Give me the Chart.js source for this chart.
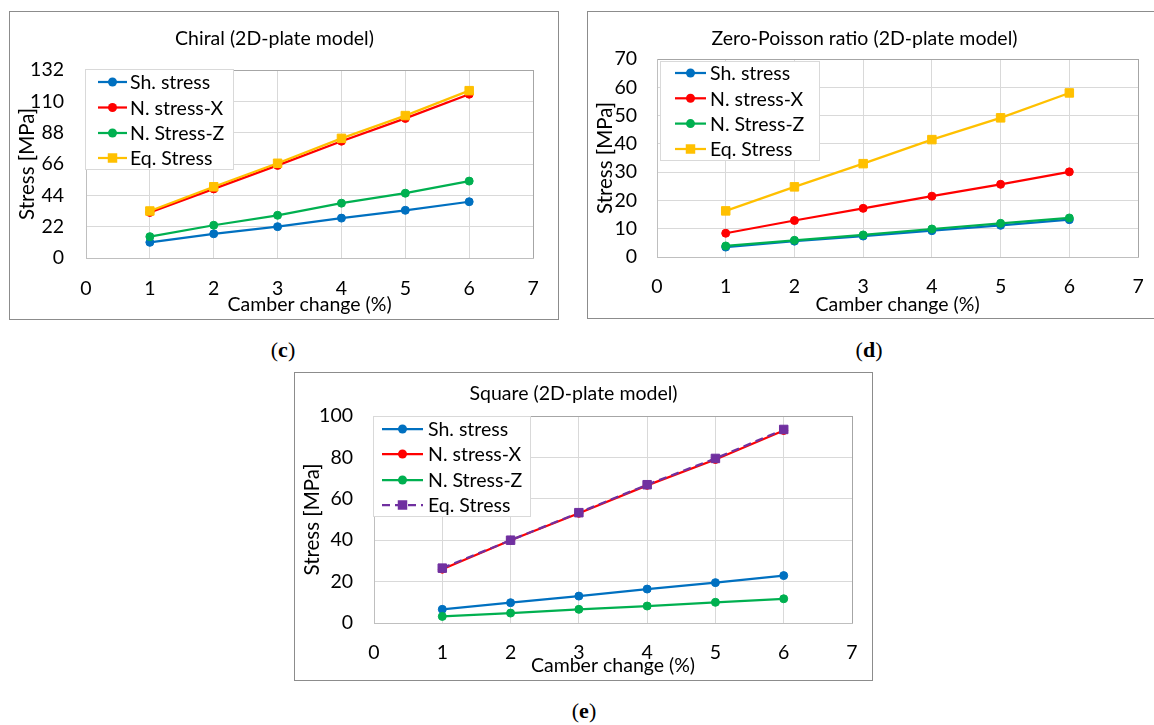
<!DOCTYPE html>
<html>
<head>
<meta charset="utf-8">
<title>Stress vs camber change</title>
<script src="https://cdn.jsdelivr.net/npm/chart.js@4.4.1/dist/chart.umd.min.js"></script>
<style>
  html, body { margin: 0; padding: 0; background: #fff; }
  body { width: 1154px; height: 725px; overflow: hidden; position: relative; }
  .frame { position: absolute; box-sizing: border-box; border: 1px solid #8c8c8c; }
  canvas { position: absolute; }
  .sub { position: absolute; transform: translate(-50%, -50%); font-family: "Liberation Serif", serif; font-size: 22px; color: #000; }
  .sub b { font-weight: bold; }
</style>
</head>
<body>
<div class="frame" style="left:9px;top:11px;width:550px;height:309px"></div>
<div class="frame" style="left:587px;top:11px;width:568px;height:308px"></div>
<div class="frame" style="left:294px;top:372px;width:579px;height:309px"></div>
<canvas id="chiral" width="548" height="307" style="left:10px;top:12px"></canvas>
<canvas id="zeroPoisson" width="574" height="306" style="left:588px;top:12px"></canvas>
<canvas id="square" width="622" height="307" style="left:295px;top:373px"></canvas>
<div class="sub" style="left:283px;top:350px">(<b>c</b>)</div>
<div class="sub" style="left:869px;top:350px">(<b>d</b>)</div>
<div class="sub" style="left:584px;top:711px">(<b>e</b>)</div>
<script>
// camber change (%) on the x axis, same for all three panels
const camber = [1, 2, 3, 4, 5, 6];
const seriesNames = ['Sh. stress', 'N. stress-X', 'N. Stress-Z', 'Eq. Stress'];

// (c) chiral
const chiralSh = [11, 17, 22, 28, 33.5, 39.5];
const chiralNX = [32, 48.5, 65, 82, 98, 115];
const chiralNZ = [15, 23, 30, 38.5, 45.5, 54];
const chiralEq = [33, 50, 66.5, 84, 100, 117.5];
const chiralTicks = [0, 22, 44, 66, 88, 110, 132];

// (d) zero-Poisson ratio
const zeroSh = [3.5, 5.6, 7.4, 9.3, 11.2, 13.2];
const zeroNX = [8.4, 12.9, 17.2, 21.5, 25.7, 30.1];
const zeroNZ = [3.9, 5.9, 7.8, 9.9, 11.9, 13.8];
const zeroEq = [16.3, 24.8, 33, 41.5, 49.2, 58];
const zeroTicks = [0, 10, 20, 30, 40, 50, 60, 70];

// (e) square
const squareSh = [6.6, 9.8, 13, 16.4, 19.5, 22.9];
const squareNX = [26, 40, 53, 66.5, 79, 93];
const squareNZ = [3.2, 4.8, 6.6, 8.2, 10, 11.7];
const squareEq = [26.5, 40, 53.3, 66.8, 79.5, 93.5];
const squareTicks = [0, 20, 40, 60, 80, 100];

const xTicks = [0, 1, 2, 3, 4, 5, 6, 7];

const FS = 19.5;
const LH = FS * 1.2;
const YT = 20.5;          // y axis title is drawn a bit larger
const YLH = YT * 1.2;
Chart.defaults.font.family = 'Lato';
Chart.defaults.font.size = FS;
Chart.defaults.color = '#000';

// legend drawn as an Excel style box inside the plot
const boxLegend = {
    id: 'boxLegend',
    afterDraw(chart, args, opts) {
        const ctx = chart.ctx;
        ctx.save();
        ctx.fillStyle = '#fff';
        ctx.fillRect(opts.x, opts.y, opts.w, opts.h);
        ctx.strokeStyle = '#d9d9d9';
        ctx.lineWidth = 1;
        ctx.strokeRect(opts.x + 0.5, opts.y + 0.5, opts.w - 1, opts.h - 1);
        chart.data.datasets.forEach((ds, i) => {
            const y = opts.rows[i];
            const mx = (opts.x0 + opts.x1) / 2;
            ctx.strokeStyle = ds.borderColor;
            ctx.lineWidth = ds.borderWidth;
            ctx.setLineDash(ds.borderDash || []);
            ctx.beginPath();
            ctx.moveTo(opts.x0, y);
            ctx.lineTo(opts.x1, y);
            ctx.stroke();
            ctx.setLineDash([]);
            ctx.fillStyle = ds.borderColor;
            ctx.beginPath();
            if (ds.pointStyle === 'rect') {
                const s = ds.pointRadius * Math.SQRT1_2 + 0.5;
                ctx.rect(mx - s, y - s, 2 * s, 2 * s);
            } else {
                ctx.arc(mx, y, ds.pointRadius + 0.5, 0, Math.PI * 2);
            }
            ctx.fill();
            ctx.fillStyle = '#000';
            ctx.font = `${FS}px Lato`;
            ctx.textBaseline = 'middle';
            ctx.fillText(ds.label, opts.tx, y + 1);
        });
        ctx.restore();
    }
};

function makeSets(series, colors, dashEq) {
    return series.map((vals, i) => ({
        label: seriesNames[i],
        data: camber.map((x, k) => ({ x: x, y: vals[k] })),
        borderColor: colors[i],
        backgroundColor: colors[i],
        pointBackgroundColor: colors[i],
        pointBorderColor: colors[i],
        borderWidth: 2.25,
        pointBorderWidth: 1,
        pointStyle: i === 3 ? 'rect' : 'circle',
        pointRadius: i === 3 ? 6 : 4,
        borderDash: (i === 3 && dashEq) ? [8, 5] : [],
        tension: 0,
        order: 3 - i
    }));
}

function edge(max, dark, light) {
    return c => (c.tick && c.tick.value === max) ? dark : light;
}

function buildChart(id, title, L, yTicks, datasets) {
    const [pl, pr, pt, pb] = L.plot;
    const yMax = yTicks[yTicks.length - 1];
    const titlePadTop = L.titleY - LH / 2;
    return new Chart(document.getElementById(id), {
        type: 'line',
        data: { datasets: datasets },
        options: {
            responsive: false,
            animation: false,
            layout: { padding: { left: 0, top: 0, right: L.w - pr, bottom: 0 } },
            plugins: {
                legend: { display: false },
                tooltip: { enabled: false },
                title: {
                    display: true,
                    text: title,
                    color: '#000',
                    font: { size: FS, weight: 'normal' },
                    padding: { top: titlePadTop, bottom: pt - titlePadTop - LH }
                },
                boxLegend: L.legend
            },
            scales: {
                x: {
                    type: 'linear',
                    min: xTicks[0],
                    max: xTicks[xTicks.length - 1],
                    afterBuildTicks: s => { s.ticks = xTicks.map(v => ({ value: v })); },
                    ticks: { padding: L.tickY - pb - LH / 2 },
                    grid: { drawTicks: false, color: edge(7, '#a6a6a6', '#d9d9d9') },
                    border: { color: '#bfbfbf' },
                    title: {
                        display: true,
                        text: 'Camber change (%)',
                        padding: { top: 0, bottom: L.h - L.xTitleY - LH / 2 }
                    },
                    afterFit: s => { s.height = L.h - pb; }
                },
                y: {
                    type: 'linear',
                    min: 0,
                    max: yMax,
                    afterBuildTicks: s => { s.ticks = yTicks.map(v => ({ value: v })); },
                    ticks: { padding: pl - L.labelRight },
                    grid: { drawTicks: false, color: edge(yMax, '#a6a6a6', '#d9d9d9') },
                    border: { color: '#bfbfbf' },
                    title: {
                        display: true,
                        text: 'Stress [MPa]',
                        font: { size: YT },
                        padding: { top: L.yTitleX - YLH / 2, bottom: 0 }
                    },
                    afterFit: s => { s.width = pl; }
                }
            }
        },
        plugins: [boxLegend]
    });
}

const colorsYellow = ['#0070C0', '#FF0000', '#00B050', '#FFC000'];
const colorsPurple = ['#0070C0', '#FF0000', '#00B050', '#7030A0'];

function build() {
    buildChart('chiral', 'Chiral (2D-plate model)', {
        w: 548, h: 307, plot: [76, 529, 58, 246],
        titleY: 27, labelRight: 54, yTitleX: 17, tickY: 277, xTitleY: 293,
        legend: { x: 75, y: 57, w: 149, h: 101, rows: [70, 95.5, 121, 146], x0: 88, x1: 117, tx: 120 }
    }, chiralTicks, makeSets([chiralSh, chiralNX, chiralNZ, chiralEq], colorsYellow, false));

    buildChart('zeroPoisson', 'Zero-Poisson ratio (2D-plate model)', {
        w: 574, h: 306, plot: [69, 553, 47, 245],
        titleY: 27, labelRight: 49, yTitleX: 17, tickY: 275, xTitleY: 293,
        legend: { x: 72, y: 49, w: 160, h: 100, rows: [61, 86.3, 111.6, 137], x0: 87, x1: 118, tx: 122 }
    }, zeroTicks, makeSets([zeroSh, zeroNX, zeroNZ, zeroEq], colorsYellow, false));

    buildChart('square', 'Square (2D-plate model)', {
        w: 622, h: 307, plot: [79, 557, 43, 250],
        titleY: 21, labelRight: 58, yTitleX: 17, tickY: 280, xTitleY: 293,
        legend: { x: 78, y: 43, w: 158, h: 101, rows: [56, 81, 107, 132], x0: 87, x1: 128, tx: 133 }
    }, squareTicks, makeSets([squareSh, squareNX, squareNZ, squareEq], colorsPurple, true));
}

document.fonts.load(`${FS}px Lato`).then(build, build);
</script>
</body>
</html>
